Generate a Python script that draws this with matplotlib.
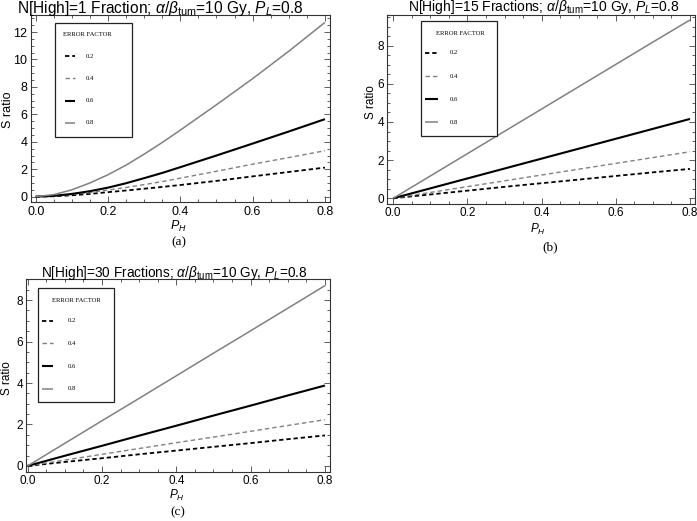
import matplotlib
matplotlib.use("Agg")
import matplotlib.pyplot as plt
from matplotlib.lines import Line2D
from matplotlib.patches import Rectangle
from matplotlib.ticker import MultipleLocator, FormatStrFormatter

plt.rcParams['font.family'] = ['Liberation Sans', 'DejaVu Sans']
plt.rcParams['mathtext.fontset'] = 'custom'
plt.rcParams['mathtext.rm'] = 'Liberation Sans'
plt.rcParams['mathtext.it'] = 'Liberation Sans:italic'
plt.rcParams['mathtext.bf'] = 'Liberation Sans:bold'

# ---------------- data ----------------
error_factors = ["0.2", "0.4", "0.6", "0.8"]

ph_a = [0, 0.05, 0.1, 0.15, 0.2, 0.25, 0.3, 0.35, 0.4, 0.5, 0.6, 0.7, 0.8]
a_02 = [0, 0.03, 0.10, 0.20, 0.33, 0.45, 0.58, 0.71, 0.85, 1.15, 1.48, 1.80, 2.12]
a_04 = [0, 0.05, 0.15, 0.30, 0.48, 0.67, 0.88, 1.10, 1.35, 1.85, 2.37, 2.85, 3.35]
a_06 = [0, 0.06, 0.20, 0.40, 0.66, 0.98, 1.35, 1.73, 2.15, 3.00, 3.87, 4.75, 5.65]
a_08 = [0, 0.15, 0.50, 1.00, 1.60, 2.30, 3.10, 3.95, 4.85, 6.70, 8.60, 10.60, 12.70]

ph_bc = [0, 0.1, 0.2, 0.3, 0.4, 0.5, 0.6, 0.7, 0.8]
b_02 = [0, 0.20, 0.40, 0.60, 0.79, 0.98, 1.17, 1.36, 1.54]
b_04 = [0, 0.305, 0.61, 0.915, 1.22, 1.525, 1.83, 2.135, 2.44]
b_06 = [0, 0.52, 1.04, 1.56, 2.08, 2.60, 3.12, 3.64, 4.16]
b_08 = [0, 1.17, 2.34, 3.51, 4.68, 5.85, 7.02, 8.19, 9.35]

c_02 = [0, 0.19, 0.37, 0.56, 0.74, 0.92, 1.10, 1.29, 1.47]
c_04 = [0, 0.28, 0.56, 0.84, 1.12, 1.39, 1.67, 1.95, 2.23]
c_06 = [0, 0.49, 0.97, 1.46, 1.94, 2.43, 2.91, 3.40, 3.88]
c_08 = [0, 1.09, 2.18, 3.26, 4.35, 5.44, 6.52, 7.61, 8.70]

titles = [
    r'N[High]=1 Fraction; $\alpha/\beta_{\mathrm{tum}}$=10 Gy, $P_L$=0.8',
    r'N[High]=15 Fractions; $\alpha/\beta_{\mathrm{tum}}$=10 Gy, $P_L$=0.8',
    r'N[High]=30 Fractions; $\alpha/\beta_{\mathrm{tum}}$=10 Gy, $P_L$=0.8',
]
captions = ["(a)", "(b)", "(c)"]

# ---------------- styles ----------------
GRAY = '#808080'
styles = [
    dict(color='black', lw=1.3, ls=(0, (2.4, 1.6))),
    dict(color=GRAY, lw=1.0, ls=(0, (3.2, 2.2))),
    dict(color='black', lw=1.5, ls='-'),
    dict(color=GRAY, lw=1.1, ls='-'),
]

W, H = 697, 521
fig = plt.figure(figsize=(W / 100, H / 100), dpi=100)


def px_axes(l, t, r, b):
    return fig.add_axes([l / W, 1 - b / H, (r - l) / W, (b - t) / H])


def fx(x):
    return x / W


def fy(y):
    return 1 - y / H


panels = [
    dict(box=(31, 15, 330, 202.3), xlim=(-0.013, 0.814), ylim=(-0.41, 13.24),
         x=ph_a, ys=[a_02, a_04, a_06, a_08], fs=9.0,
         title_xy=(160, 8.5), title_fs=11.2, ylab_xy=(8, 110), xlab_xy=(178, 226),
         cap_xy=(179, 242.5),
         leg=dict(box=(55, 22.7, 132, 136.7), title_xy=(87, 34), rows=[56, 78.3, 100.7, 122.7],
                  line=(65, 75), lab_x=86)),
    dict(box=(387.3, 15, 695, 204), xlim=(-0.016, 0.8135), ylim=(-0.30, 9.61),
         x=ph_bc, ys=[b_02, b_04, b_06, b_08], fs=8.5,
         title_xy=(544, 7.5), title_fs=10.0, ylab_xy=(371, 102), xlab_xy=(538, 229),
         cap_xy=(550, 247),
         leg=dict(box=(421, 21, 497, 136), title_xy=(460, 33.3), rows=[52.7, 76, 99.3, 122.3],
                  line=(425, 438), lab_x=450)),
    dict(box=(26.5, 279, 330, 471.7), xlim=(-0.0032, 0.8135), ylim=(-0.28, 9.02),
         x=ph_bc, ys=[c_02, c_04, c_06, c_08], fs=8.5,
         title_xy=(174.5, 273), title_fs=9.8, ylab_xy=(7, 378), xlab_xy=(177, 495),
         cap_xy=(178, 512),
         leg=dict(box=(38, 288, 114, 402), title_xy=(76, 300), rows=[321, 343.3, 366, 389],
                  line=(42, 53), lab_x=68)),
]

for i, p in enumerate(panels):
    ax = px_axes(*p['box'])
    for ys, st in zip(p['ys'], styles):
        ax.plot(p['x'], ys, color=st['color'], lw=st['lw'], ls=st['ls'],
                solid_capstyle='butt', dash_capstyle='butt', solid_joinstyle='round')
    ax.set_xlim(*p['xlim'])
    ax.set_ylim(*p['ylim'])
    ax.xaxis.set_major_locator(MultipleLocator(0.2))
    ax.xaxis.set_minor_locator(MultipleLocator(0.05))
    ax.yaxis.set_major_locator(MultipleLocator(2))
    ax.yaxis.set_minor_locator(MultipleLocator(0.5))
    ax.xaxis.set_major_formatter(FormatStrFormatter('%.1f'))
    ax.tick_params(which='both', direction='in', top=True, right=True,
                   labelsize=p['fs'], width=0.6, color='#444444', pad=2.5)
    ax.tick_params(which='major', length=4)
    ax.tick_params(which='minor', length=2)
    for sp in ax.spines.values():
        sp.set_linewidth(0.8)
        sp.set_color('#333333')

    fig.text(fx(p['title_xy'][0]), fy(p['title_xy'][1]), titles[i], ha='center', va='center',
             fontsize=p['title_fs'])
    fig.text(fx(p['ylab_xy'][0]), fy(p['ylab_xy'][1]), 'S ratio', rotation=90,
             ha='center', va='center', fontsize=p['fs'])
    fig.text(fx(p['xlab_xy'][0]), fy(p['xlab_xy'][1]), r'$P_H$', ha='center', va='center',
             fontsize=p['fs'])
    fig.text(fx(p['cap_xy'][0]), fy(p['cap_xy'][1]), captions[i], ha='center', va='center',
             fontsize=9.5, family=['Liberation Serif', 'DejaVu Serif'])

    # legend box
    lg = p['leg']
    l, t, r, b = lg['box']
    fig.patches.append(Rectangle((fx(l), fy(b)), fx(r - l), (b - t) / H, transform=fig.transFigure,
                                 facecolor='white', edgecolor='#222222', lw=0.9))
    fig.text(fx(lg['title_xy'][0]), fy(lg['title_xy'][1]), 'ERROR FACTOR', ha='center',
             va='center', fontsize=4.8, family=['Liberation Serif', 'DejaVu Serif'])
    for row_y, st, lab in zip(lg['rows'], styles, error_factors):
        fig.lines.append(Line2D([fx(lg['line'][0]), fx(lg['line'][1])], [fy(row_y), fy(row_y)],
                                transform=fig.transFigure, color=st['color'], lw=st['lw'],
                                ls=st['ls'], dash_capstyle='butt', solid_capstyle='butt'))
        fig.text(fx(lg['lab_x']), fy(row_y), lab, ha='left', va='center', fontsize=4.8,
                 family=['Liberation Serif', 'DejaVu Serif'])

fig.savefig('out.png', dpi=100)
